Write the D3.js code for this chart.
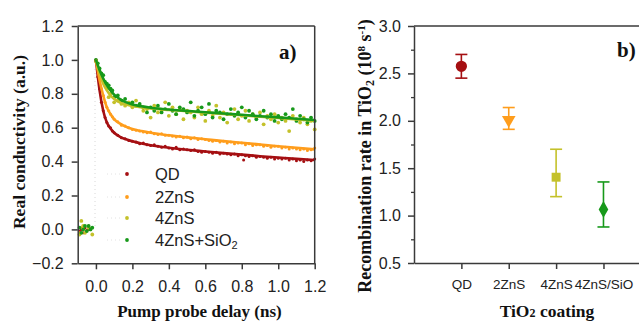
<!DOCTYPE html>
<html><head><meta charset="utf-8">
<script src="https://cdn.jsdelivr.net/npm/d3@7"></script>
<style>
html,body{margin:0;padding:0;background:#fff;}
svg{display:block;}
.sans{font-family:"Liberation Sans",Arial,sans-serif;fill:#222;}
.serif{font-family:"Liberation Serif","Times New Roman",serif;font-weight:bold;fill:#111;}
</style>
</head><body>
<svg id="c" width="639" height="322"></svg>
<script>
// ---------- Panel a data ----------
const seriesNames = ["QD","2ZnS","4ZnS","4ZnS+SiO2"];
const seriesColors = ["#a50f12","#ff9d1c","#c4c12a","#17991a"];
const xTicksA = [0,0.2,0.4,0.6,0.8,1.0,1.2];
const yTicksA = [-0.2,0,0.2,0.4,0.6,0.8,1.0,1.2];

const fitT = [0,0.02,0.04,0.06,0.08,0.1,0.13,0.16,0.2,0.25,0.3,0.4,0.5,0.6,0.7,0.8,0.9,1.0,1.1,1.2];
const fitQD   = [1.0,0.82,0.70,0.63,0.595,0.57,0.548,0.533,0.52,0.507,0.497,0.482,0.47,0.46,0.45,0.441,0.432,0.424,0.416,0.409];
const fit2ZnS = [1.0,0.88,0.79,0.72,0.68,0.65,0.625,0.608,0.592,0.58,0.57,0.555,0.543,0.532,0.521,0.511,0.501,0.491,0.482,0.472];
const fit4ZnS = [1.0,0.92,0.86,0.82,0.79,0.77,0.75,0.738,0.728,0.72,0.714,0.705,0.697,0.689,0.681,0.673,0.665,0.657,0.649,0.641];
const fitSiO2 = [1.0,0.94,0.89,0.85,0.82,0.795,0.77,0.752,0.737,0.726,0.718,0.707,0.699,0.691,0.684,0.676,0.668,0.661,0.653,0.645];

const ptsQD = [[-0.09,-0.01],[-0.08,0.0],[-0.07,-0.02],[-0.06,0.01],[-0.05,-0.005],[-0.04,0.0],
[0.00,1.00],[0.01,0.90],[0.02,0.83],[0.03,0.75],[0.04,0.70],[0.05,0.66],[0.06,0.63],[0.07,0.61],[0.08,0.60],[0.09,0.58],[0.10,0.57],[0.12,0.555],[0.14,0.54],[0.16,0.535],[0.18,0.525],[0.20,0.52],[0.22,0.515],[0.24,0.505],[0.26,0.51],[0.28,0.50],[0.30,0.495],[0.32,0.50],[0.34,0.49],[0.36,0.485],[0.38,0.49],[0.40,0.48],[0.42,0.475],[0.44,0.485],[0.46,0.47],[0.48,0.475],[0.50,0.47],[0.52,0.465],[0.54,0.47],[0.56,0.46],[0.58,0.455],[0.60,0.46],[0.62,0.455],[0.64,0.45],[0.66,0.455],[0.68,0.445],[0.70,0.45],[0.72,0.445],[0.74,0.44],[0.76,0.445],[0.78,0.435],[0.80,0.44],[0.81,0.41],[0.82,0.435],[0.84,0.43],[0.86,0.435],[0.88,0.425],[0.90,0.43],[0.92,0.425],[0.94,0.42],[0.96,0.425],[0.98,0.415],[1.00,0.42],[1.02,0.415],[1.04,0.42],[1.06,0.41],[1.08,0.415],[1.10,0.405],[1.12,0.41],[1.14,0.40],[1.16,0.41],[1.18,0.405],[1.20,0.415]];

const pts2ZnS = [[-0.09,-0.02],[-0.08,0.01],[-0.07,0.0],[-0.05,-0.01],[-0.04,0.02],[-0.03,0.005],
[0.00,1.0],[0.01,0.95],[0.02,0.89],[0.03,0.83],[0.04,0.79],[0.05,0.75],[0.06,0.72],[0.07,0.70],[0.08,0.68],[0.09,0.665],[0.10,0.65],[0.12,0.635],[0.14,0.615],[0.16,0.61],[0.18,0.60],[0.20,0.59],[0.22,0.585],[0.24,0.58],[0.26,0.575],[0.28,0.57],[0.30,0.575],[0.32,0.565],[0.34,0.56],[0.36,0.565],[0.38,0.555],[0.40,0.555],[0.42,0.55],[0.44,0.545],[0.46,0.55],[0.48,0.54],[0.50,0.545],[0.52,0.535],[0.54,0.54],[0.56,0.53],[0.58,0.535],[0.60,0.53],[0.62,0.525],[0.64,0.52],[0.66,0.525],[0.68,0.515],[0.70,0.52],[0.72,0.51],[0.74,0.515],[0.76,0.505],[0.78,0.51],[0.80,0.51],[0.82,0.50],[0.84,0.505],[0.86,0.495],[0.88,0.50],[0.90,0.50],[0.92,0.49],[0.94,0.495],[0.96,0.485],[0.98,0.49],[1.00,0.49],[1.02,0.48],[1.04,0.485],[1.06,0.475],[1.08,0.48],[1.10,0.475],[1.12,0.47],[1.14,0.475],[1.16,0.465],[1.18,0.47],[1.20,0.48]];

const pts4ZnS = [[-0.09,-0.03],[-0.08,0.05],[-0.07,0.02],[-0.06,-0.02],[-0.04,0.01],[-0.03,0.0],[-0.02,-0.03],
[0.00,0.99],[0.02,0.93],[0.04,0.88],[0.06,0.83],[0.07,0.78],[0.08,0.80],[0.10,0.75],[0.12,0.76],[0.14,0.74],[0.16,0.73],[0.18,0.75],[0.20,0.72],[0.22,0.76],[0.24,0.73],[0.26,0.70],[0.28,0.71],[0.30,0.66],[0.32,0.73],[0.34,0.69],[0.36,0.70],[0.38,0.75],[0.40,0.67],[0.42,0.72],[0.44,0.68],[0.46,0.71],[0.48,0.65],[0.50,0.70],[0.52,0.69],[0.54,0.66],[0.56,0.72],[0.58,0.68],[0.60,0.64],[0.62,0.70],[0.64,0.67],[0.66,0.73],[0.68,0.66],[0.70,0.69],[0.72,0.63],[0.74,0.68],[0.76,0.71],[0.78,0.65],[0.80,0.67],[0.82,0.70],[0.84,0.64],[0.86,0.68],[0.88,0.66],[0.90,0.69],[0.92,0.62],[0.94,0.67],[0.96,0.65],[0.98,0.68],[1.00,0.63],[1.02,0.66],[1.04,0.64],[1.06,0.58],[1.08,0.67],[1.10,0.65],[1.12,0.63],[1.14,0.66],[1.16,0.62],[1.18,0.64],[1.20,0.59]];

const ptsSiO2 = [[-0.09,0.01],[-0.08,-0.02],[-0.07,0.0],[-0.06,0.02],[-0.05,-0.01],[-0.04,0.02],[-0.03,0.0],[-0.02,0.01],
[0.00,1.00],[0.01,0.98],[0.02,0.95],[0.03,0.92],[0.04,0.91],[0.05,0.87],[0.06,0.86],[0.07,0.85],[0.08,0.83],[0.09,0.82],[0.10,0.78],[0.12,0.79],[0.14,0.76],[0.16,0.77],[0.18,0.74],[0.20,0.75],[0.22,0.73],[0.24,0.74],[0.26,0.72],[0.28,0.69],[0.30,0.72],[0.32,0.70],[0.34,0.73],[0.36,0.69],[0.38,0.71],[0.40,0.74],[0.42,0.70],[0.44,0.68],[0.46,0.72],[0.48,0.71],[0.50,0.69],[0.52,0.75],[0.54,0.67],[0.56,0.70],[0.58,0.72],[0.60,0.68],[0.62,0.74],[0.64,0.66],[0.66,0.70],[0.68,0.69],[0.70,0.65],[0.72,0.68],[0.74,0.71],[0.76,0.67],[0.78,0.69],[0.80,0.72],[0.82,0.66],[0.84,0.70],[0.86,0.68],[0.88,0.65],[0.90,0.67],[0.92,0.70],[0.94,0.66],[0.96,0.68],[0.98,0.64],[1.00,0.67],[1.02,0.65],[1.04,0.68],[1.06,0.66],[1.08,0.71],[1.10,0.64],[1.12,0.67],[1.14,0.65],[1.16,0.63],[1.18,0.66],[1.20,0.64]];

// ---------- Panel b data ----------
const coatings = ["QD","2ZnS","4ZnS","4ZnS/SiO"];
const rates = [2.575,2.01,1.405,1.065];
const rateLow = [2.45,1.91,1.20,0.88];
const rateHigh = [2.70,2.14,1.70,1.355];
const rateShapes = ["circle","triangle","square","diamond"];
const yTicksB = [0.5,1.0,1.5,2.0,2.5,3.0];
const yMinorB = [0.75,1.25,1.75,2.25,2.75];

const svg = d3.select("#c");
const AX = "#3a3a3a";

// ===== Panel a =====
const xA = d3.scaleLinear().domain([-0.1,1.2]).range([77.7,314.7]);
const yA = d3.scaleLinear().domain([-0.2,1.2]).range([263.3,26]);
const gA = svg.append("g");

gA.append("line").attr("x1",xA(-0.005)).attr("x2",xA(-0.005)).attr("y1",yA(0.02)).attr("y2",yA(0.95))
  .attr("stroke","#d8d8d8").attr("stroke-width",1).attr("stroke-dasharray","1,3");

const ptsAll = [ptsQD,pts2ZnS,pts4ZnS,ptsSiO2];
const fitsAll = [fitQD,fit2ZnS,fit4ZnS,fitSiO2];
ptsAll.forEach((pts,i)=>{
  gA.append("g").selectAll("circle").data(pts).join("circle")
    .attr("cx",d=>xA(d[0])).attr("cy",d=>yA(d[1]))
    .attr("r", i<2?1.5:1.9).attr("fill",seriesColors[i]);
});
const line = d3.line().x(d=>xA(d[0])).y(d=>yA(d[1])).curve(d3.curveMonotoneX);
fitsAll.forEach((f,i)=>{
  gA.append("path").datum(fitT.map((t,k)=>[t,f[k]])).attr("d",line)
    .attr("fill","none").attr("stroke",seriesColors[i]).attr("stroke-width",2.6);
});

const axA_x = gA.append("g").attr("transform",`translate(0,${yA(-0.2)})`)
  .call(d3.axisBottom(xA).tickValues(xTicksA).tickFormat(d3.format(".1f")).tickSize(6).tickSizeOuter(0).tickPadding(11));
const axA_y = gA.append("g").attr("transform",`translate(${xA(-0.1)},0)`)
  .call(d3.axisLeft(yA).tickValues(yTicksA).tickFormat(d3.format(".1f")).tickSize(6).tickSizeOuter(0).tickPadding(8));
[axA_x,axA_y].forEach(a=>{
  a.selectAll("path,line").attr("stroke",AX).attr("stroke-width",1.5);
  a.selectAll("text").attr("class","sans").style("font-size","16px");
});
gA.append("line").attr("x1",xA(-0.1)).attr("x2",xA(1.2)).attr("y1",yA(1.2)).attr("y2",yA(1.2)).attr("stroke",AX).attr("stroke-width",1.5);
gA.append("line").attr("x1",xA(1.2)).attr("x2",xA(1.2)).attr("y1",yA(1.2)).attr("y2",yA(-0.2)).attr("stroke",AX).attr("stroke-width",1.5);

// legend
const legY = [174,197,218,240];
seriesNames.forEach((n,i)=>{
  gA.append("line").attr("x1",107).attr("x2",122).attr("y1",legY[i]).attr("y2",legY[i])
    .attr("stroke","#e2e2e2").attr("stroke-width",1).attr("stroke-dasharray","1,3");
  gA.append("circle").attr("cx",127).attr("cy",legY[i]).attr("r",1.9).attr("fill",seriesColors[i]);
  const t = gA.append("text").attr("class","sans").attr("x",155).attr("y",legY[i]+5.5).style("font-size","16.5px");
  if(n==="4ZnS+SiO2"){ t.append("tspan").text("4ZnS+SiO"); t.append("tspan").attr("baseline-shift","-25%").style("font-size","11px").text("2"); }
  else t.text(n);
});

gA.append("text").attr("class","serif").attr("x",279).attr("y",59).style("font-size","21px").text("a)");
gA.append("text").attr("class","serif").attr("transform",`translate(25,142) rotate(-90)`).attr("text-anchor","middle").style("font-size","17.5px").text("Real conductivity (a.u.)");
gA.append("text").attr("class","serif").attr("x",199.5).attr("y",317).attr("text-anchor","middle").style("font-size","17px").text("Pump probe delay (ns)");

// ===== Panel b =====
const xB = d3.scaleLinear().domain([0,4.75]).range([414,639]);
const yB = d3.scaleLinear().domain([0.5,3.0]).range([263,26]);
const gB = svg.append("g");

const axB_y = gB.append("g").attr("transform",`translate(${xB(0)},0)`)
  .call(d3.axisLeft(yB).tickValues(yTicksB).tickFormat(d3.format(".1f")).tickSize(6).tickSizeOuter(0).tickPadding(7));
gB.append("g").attr("transform",`translate(${xB(0)},0)`)
  .call(d3.axisLeft(yB).tickValues(yMinorB).tickFormat("").tickSize(3).tickSizeOuter(0))
  .call(a=>{a.select(".domain").remove(); a.selectAll("line").attr("stroke",AX).attr("stroke-width",1.3);});
const axB_x = gB.append("g").attr("transform",`translate(0,${yB(0.5)})`)
  .call(d3.axisBottom(xB).tickValues([1,2,3,4]).tickFormat((d,i)=>coatings[i]).tickSize(6).tickSizeOuter(0).tickPadding(10));
axB_y.selectAll("path,line").attr("stroke",AX).attr("stroke-width",1.5);
axB_y.selectAll("text").attr("class","sans").style("font-size","16px");
axB_x.selectAll("path,line").attr("stroke",AX).attr("stroke-width",1.5);
axB_x.selectAll("text").attr("class","sans").style("font-size","13.5px");
gB.append("line").attr("x1",xB(0)).attr("x2",xB(4.75)).attr("y1",yB(3.0)).attr("y2",yB(3.0)).attr("stroke",AX).attr("stroke-width",1.5);

coatings.forEach((c,i)=>{
  const cx = xB(i+1), col = seriesColors[i];
  const g = gB.append("g").attr("stroke",col).attr("stroke-width",1.6);
  g.append("line").attr("x1",cx).attr("x2",cx).attr("y1",yB(rateLow[i])).attr("y2",yB(rateHigh[i]));
  g.append("line").attr("x1",cx-6).attr("x2",cx+6).attr("y1",yB(rateLow[i])).attr("y2",yB(rateLow[i]));
  g.append("line").attr("x1",cx-6).attr("x2",cx+6).attr("y1",yB(rateHigh[i])).attr("y2",yB(rateHigh[i]));
  const sym = {circle:d3.symbolCircle,triangle:d3.symbolTriangle,square:d3.symbolSquare,diamond:d3.symbolDiamond}[rateShapes[i]];
  const size = {circle:100,triangle:80,square:80,diamond:80}[rateShapes[i]];
  const rot = rateShapes[i]==="triangle"?" rotate(180)":"";
  gB.append("path").attr("d",d3.symbol().type(sym).size(size)())
    .attr("transform",`translate(${cx},${yB(rates[i])})${rot}`).attr("fill",col);
});

gB.append("text").attr("class","serif").attr("x",617).attr("y",57).style("font-size","21px").text("b)");
const yl = gB.append("text").attr("class","serif").attr("transform",`translate(371,156) rotate(-90)`).attr("text-anchor","middle").style("font-size","18px");
yl.append("tspan").text("Recombination rate in TiO");
yl.append("tspan").attr("baseline-shift","-25%").style("font-size","12px").text("2");
yl.append("tspan").text(" (10");
yl.append("tspan").attr("baseline-shift","super").style("font-size","11px").text("8");
yl.append("tspan").text(" s");
yl.append("tspan").attr("baseline-shift","super").style("font-size","11px").text("-1");
yl.append("tspan").text(")");
const xl = gB.append("text").attr("class","serif").attr("x",547).attr("y",317).attr("text-anchor","middle").style("font-size","17.5px");
xl.append("tspan").text("TiO");
xl.append("tspan").style("font-size","12px").text("2");
xl.append("tspan").text(" coating");
</script>
</body></html>
